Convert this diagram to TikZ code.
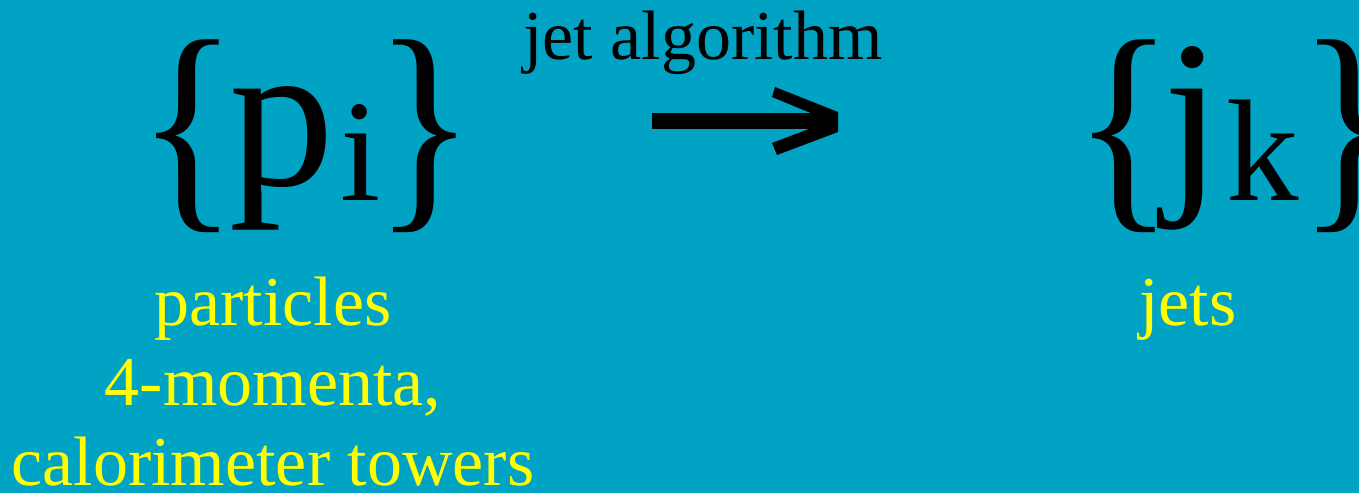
\documentclass[tikz,border=0pt]{standalone}
\usepackage{fontspec}
\setmainfont{Liberation Serif}
\definecolor{slidebg}{RGB}{0,163,196}
\definecolor{labelyellow}{RGB}{255,255,0}
\tikzset{
  txt/.style={inner sep=0pt, outer sep=0pt, anchor=base west},
  label/.style={inner sep=0pt, outer sep=0pt, anchor=base, text=labelyellow,
                font=\fontsize{52.5}{60}\selectfont},
  caption/.style={txt, text=black, font=\fontsize{52.5}{60}\selectfont},
  bigsym/.style={txt, text=black, font=\fontsize{157.5}{170}\selectfont},
  brace/.style={bigsym, yscale=1.11},
  subsym/.style={txt, text=black, font=\fontsize{108.75}{120}\selectfont},
}
\begin{document}
\begin{tikzpicture}[x=0.75pt, y=-0.75pt]
  % page background
  \fill[slidebg] (0,0) rectangle (1359,493);
  \useasboundingbox (0,0) rectangle (1359,493);

  % input set {p_i}
  \node[brace]  (lbp) at (137,201) {\{};
  \node[bigsym] (p)   at (229,185) {p};
  \node[subsym] (i)   at (340,200) {i};
  \node[brace]  (rbp) at (374,201) {\}};

  % output set {j_k}
  \node[brace]  (lbj) at (1073,201) {\{};
  \node[bigsym] (j)   at (1163,185) {j};
  \node[subsym] (k)   at (1226,200) {k};
  \node[brace]  (rbj) at (1298,201) {\}};

  % caption over the mapping arrow
  \node[caption] (alg) at (523,59) {jet algorithm};

  % mapping arrow
  \coordinate (tail) at (652,121);
  \coordinate (head) at (830,121);
  \fill[black] ([yshift=-6]tail) rectangle ([yshift=6]head);
  \fill[black] (775,87) -- (838,112) -- (838,132) -- (777,155)
               -- (772,143) -- (head) -- (772,97) -- cycle;

  % descriptions, centred under their sets
  \node[label] (l1) at (273,325) {particles};
  \node[label] (l2) at (273,405) {4-momenta,};
  \node[label] (l3) at (273,485) {calorimeter towers};
  \node[label] (jets) at (1188,325) {jets};
\end{tikzpicture}
\end{document}
